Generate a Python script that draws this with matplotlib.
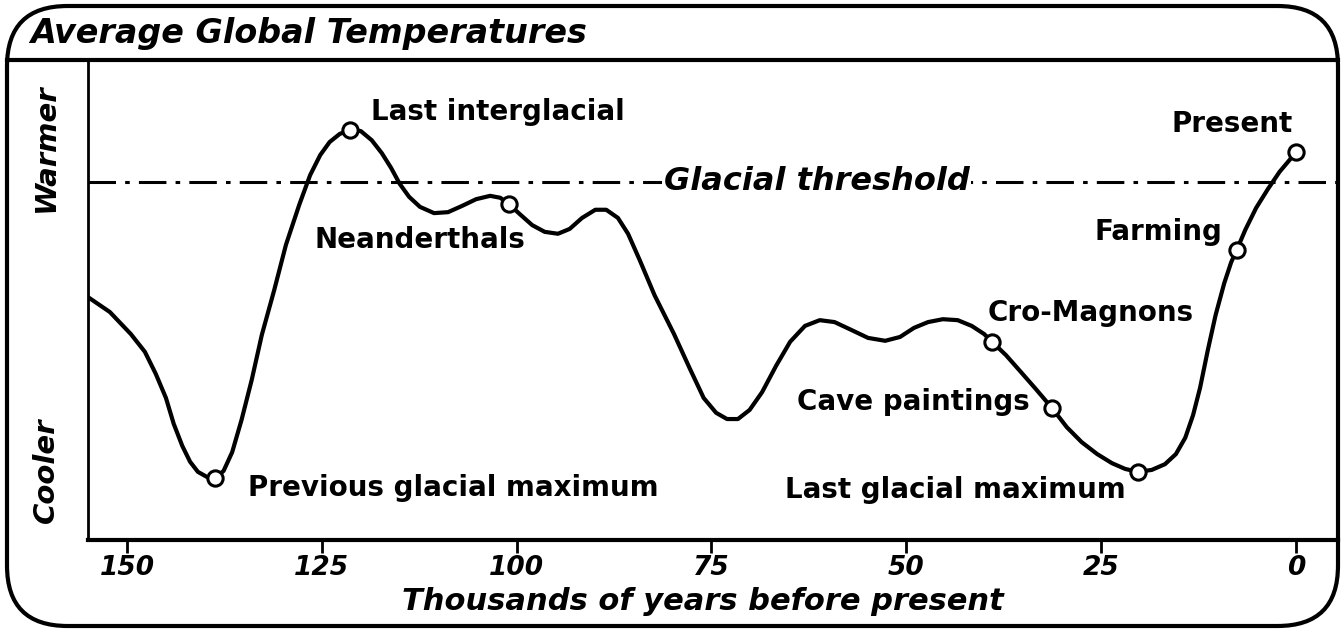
import matplotlib.pyplot as plt
from matplotlib.patches import FancyBboxPatch
from matplotlib.lines import Line2D

# temperature curve (thousands of years ago, relative index 0-100)
kyr = [155.0, 152.2, 149.5, 147.7, 146.3, 145.0, 144.0, 142.9, 141.9, 140.9,
       139.7, 138.7, 137.6, 136.5, 135.3, 134.0, 132.7, 131.1, 129.6, 127.9,
       126.5, 125.2, 124.0, 122.7, 121.4, 120.0, 118.6, 117.3, 116.1, 115.0,
       113.8, 112.4, 110.6, 108.8, 107.0, 105.2, 103.4, 102.1, 101.0, 99.6,
       98.0, 96.4, 94.7, 93.2, 91.6, 89.9, 88.5, 87.0, 85.7, 84.2,
       82.3, 79.8, 77.8, 76.0, 74.4, 73.0, 71.6, 70.1, 68.5, 66.7,
       64.9, 63.0, 61.1, 59.2, 57.1, 54.9, 52.7, 50.8, 49.0, 47.2,
       45.3, 43.4, 41.6, 40.0, 39.0, 37.2, 35.4, 33.4, 31.3, 29.4,
       27.5, 25.5, 23.6, 21.9, 20.3, 18.5, 16.8, 15.4, 14.2, 13.2,
       12.3, 11.3, 10.3, 9.2, 8.3, 7.6, 6.5, 5.1, 3.6, 2.1,
       0.8, 0.0]
temp = [50.6, 47.5, 42.9, 39.2, 34.6, 29.6, 24.2, 19.6, 16.3, 14.2,
        13.1, 12.9, 14.4, 18.3, 25.0, 33.3, 42.7, 52.1, 61.5, 69.8,
        76.0, 80.2, 82.9, 84.6, 85.4, 85.2, 83.3, 80.6, 77.5, 74.2,
        71.5, 69.4, 68.1, 68.3, 69.6, 71.0, 71.7, 71.3, 70.0, 67.9,
        65.6, 64.2, 63.8, 64.8, 67.1, 68.8, 68.8, 67.1, 63.8, 58.3,
        51.0, 42.9, 35.8, 29.6, 26.5, 25.2, 25.2, 27.1, 30.8, 36.3,
        41.3, 44.6, 45.8, 45.4, 43.8, 42.1, 41.5, 42.3, 44.2, 45.4,
        46.0, 45.8, 44.6, 42.9, 41.3, 38.5, 35.2, 31.5, 27.5, 23.5,
        20.4, 17.9, 16.0, 14.8, 14.2, 14.6, 15.8, 17.9, 21.3, 26.0,
        31.7, 39.6, 46.9, 53.5, 57.9, 60.4, 64.6, 69.2, 73.1, 76.7,
        79.2, 80.8]

# marked events
event_names = ["Previous glacial maximum", "Last interglacial", "Neanderthals",
               "Cro-Magnons", "Cave paintings", "Last glacial maximum",
               "Farming", "Present"]
event_kyr = [138.7, 121.4, 101.0, 39.0, 31.3, 20.3, 7.6, 0.0]
event_temp = [12.9, 85.4, 70.0, 41.3, 27.5, 14.2, 60.4, 80.8]

threshold = 74.6
xticks = [150, 125, 100, 75, 50, 25, 0]

fig = plt.figure(figsize=(13.44, 6.32), dpi=100)
W, H = 1344, 632

# outer rounded frame and title band
frame = FancyBboxPatch((7 / W, 6 / H), 1331 / W, 620 / H,
                       boxstyle="round,pad=0,rounding_size=0.045",
                       transform=fig.transFigure, fill=False, lw=3, ec="black",
                       mutation_aspect=W / H)
fig.patches.append(frame)
fig.add_artist(Line2D([7 / W, 1338 / W], [1 - 60 / H, 1 - 60 / H], color="black", lw=3))
fig.text(30 / W, 1 - 34 / H, "Average Global Temperatures", fontsize=24,
         style="italic", weight="bold", va="center", ha="left")

ax = fig.add_axes([88 / W, (H - 540) / H, (1338 - 88) / W, 480 / H])
ax.plot(kyr, temp, color="black", lw=3, solid_capstyle="round", solid_joinstyle="round", zorder=3)
ax.plot(event_kyr, event_temp, "o", ms=11, mfc="white", mec="black", mew=2.2, zorder=4)

# glacial threshold
ax.axhline(threshold, color="black", lw=2.2, dashes=(9, 3, 1.5, 3), zorder=1)
ax.text(61.5, threshold, "Glacial threshold", fontsize=23, style="italic", weight="bold",
        ha="center", va="center", zorder=2,
        bbox=dict(facecolor="white", edgecolor="none", pad=1))

# event labels
lab = dict(fontsize=20, weight="bold", va="center")
ax.text(134.5, 10.8, "Previous glacial maximum", ha="left", **lab)
ax.text(118.7, 89.2, "Last interglacial", ha="left", **lab)
ax.text(112.4, 62.5, "Neanderthals", ha="center", **lab)
ax.text(39.5, 47.3, "Cro-Magnons", ha="left", **lab)
ax.text(34.1, 28.7, "Cave paintings", ha="right", **lab)
ax.text(21.8, 10.4, "Last glacial maximum", ha="right", **lab)
ax.text(9.5, 64.2, "Farming", ha="right", **lab)
ax.text(8.2, 86.7, "Present", ha="center", **lab)

ax.set_xlim(155.0, -5.4)
ax.set_ylim(0, 100)
ax.set_xticks(xticks)
ax.set_xticklabels([str(t) for t in xticks], fontsize=19, style="italic", weight="bold")
ax.tick_params(axis="x", direction="out", length=9, width=2, pad=2)
ax.set_yticks([])

for side in ["top", "right"]:
    ax.spines[side].set_visible(False)
ax.spines["left"].set_linewidth(2)
ax.spines["bottom"].set_linewidth(3)

fig.text(703 / W, 1 - 602 / H, "Thousands of years before present", fontsize=22,
         style="italic", weight="bold", ha="center", va="center")
fig.text(46 / W, 1 - 148 / H, "Warmer", fontsize=21, style="italic", weight="bold",
         rotation=90, ha="center", va="center")
fig.text(46 / W, 1 - 470 / H, "Cooler", fontsize=21, style="italic", weight="bold",
         rotation=90, ha="center", va="center")

fig.savefig("out.png", dpi=100)
